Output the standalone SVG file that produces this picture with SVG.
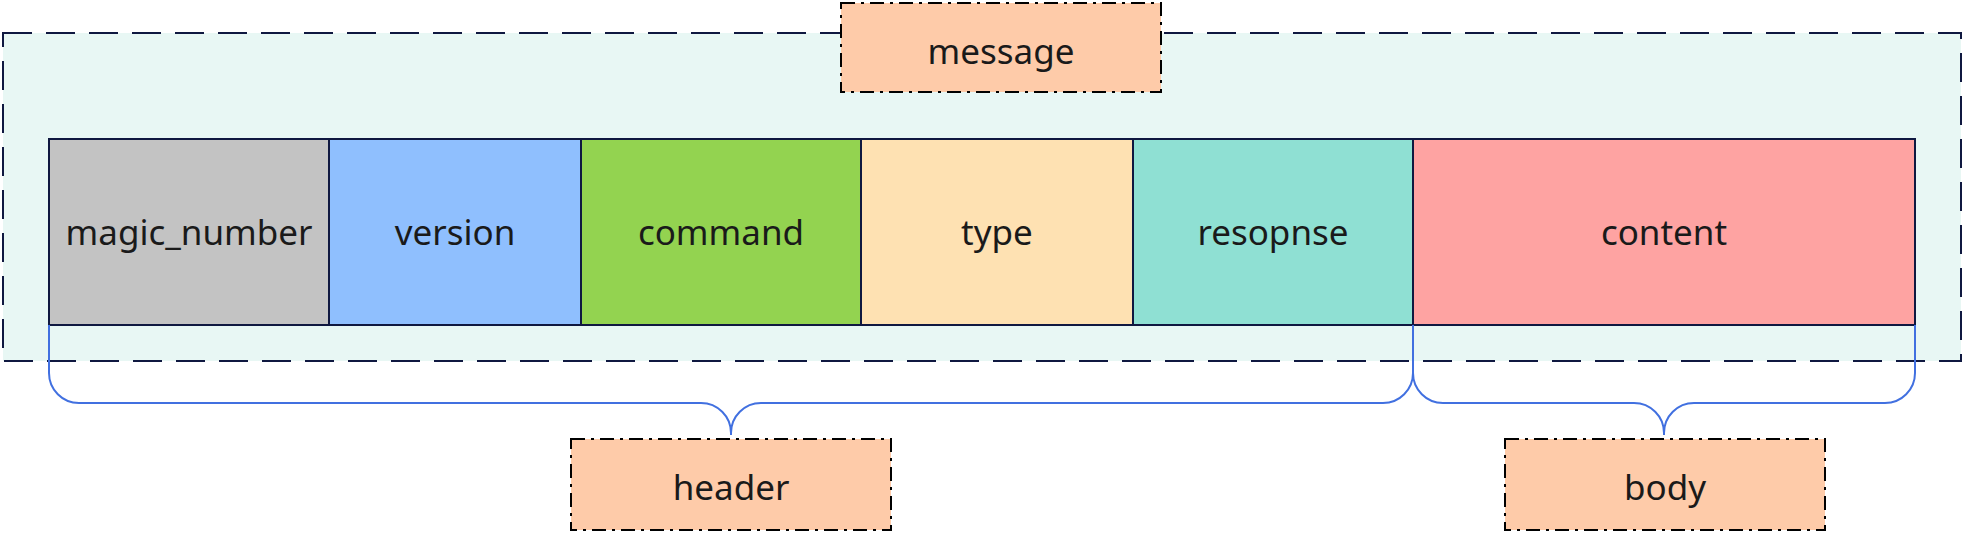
<svg xmlns="http://www.w3.org/2000/svg" width="1964" height="534" viewBox="0 0 1964 534">
<style>
.cell{stroke:#0f1840;stroke-width:2}
.lbl{fill:#fecba9;stroke:#000;stroke-width:2;stroke-dasharray:14 6 3 6}
text{font-family:"Noto Sans","Open Sans",sans-serif;font-size:35px;fill:#1a1a1a;text-anchor:middle}
.brace{fill:none;stroke:#4170e0;stroke-width:2}
</style>
<g id="container">
<rect x="3" y="33" width="1958" height="328" fill="#e8f7f4" stroke="#0f1840" stroke-width="2" stroke-dasharray="29 14"/>
</g>
<g id="magic_number"><rect class="cell" x="49" y="139" width="280" height="186" fill="#c3c3c3"/><text x="189" y="245">magic_number</text></g>
<g id="version"><rect class="cell" x="329" y="139" width="252" height="186" fill="#8fbffe"/><text x="455" y="245">version</text></g>
<g id="command"><rect class="cell" x="581" y="139" width="280" height="186" fill="#93d350"/><text x="721" y="245">command</text></g>
<g id="type"><rect class="cell" x="861" y="139" width="272" height="186" fill="#fee1b2"/><text x="997" y="245">type</text></g>
<g id="resopnse"><rect class="cell" x="1133" y="139" width="280" height="186" fill="#8fe0d3"/><text x="1273" y="245">resopnse</text></g>
<g id="content"><rect class="cell" x="1413" y="139" width="502" height="186" fill="#fea3a2"/><text x="1664" y="245">content</text></g>
<g id="connectors">
<path class="brace" d="M49,325 L49,373 A30,30 0 0 0 79,403 L701,403 A30,30 0 0 1 731,433 L731,435 M731,433 A30,30 0 0 1 761,403 L1383,403 A30,30 0 0 0 1413,373 L1413,325"/>
<path class="brace" d="M1413,325 L1413,373 A30,30 0 0 0 1443,403 L1634,403 A30,30 0 0 1 1664,433 L1664,435 M1664,433 A30,30 0 0 1 1694,403 L1885,403 A30,30 0 0 0 1915,373 L1915,325"/>
</g>
<g id="message"><rect class="lbl" x="841" y="3" width="320" height="89"/><text x="1001" y="64">message</text></g>
<g id="header"><rect class="lbl" x="571" y="439" width="320" height="91"/><text x="731" y="500">header</text></g>
<g id="body"><rect class="lbl" x="1505" y="439" width="320" height="91"/><text x="1665" y="500">body</text></g>
</svg>
